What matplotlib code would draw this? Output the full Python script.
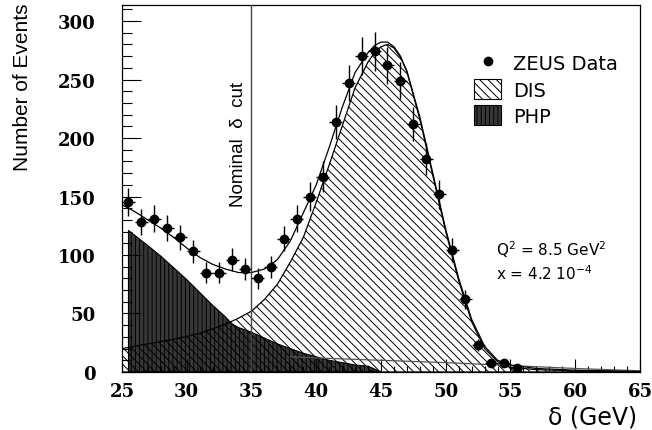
import numpy as np
import matplotlib
matplotlib.use("Agg")
import matplotlib.pyplot as plt
from matplotlib.lines import Line2D
from matplotlib.patches import Patch

# ZEUS data points (bin centres, 1 GeV bins)
delta = [25.5, 26.5, 27.5, 28.5, 29.5, 30.5, 31.5, 32.5, 33.5, 34.5,
         35.5, 36.5, 37.5, 38.5, 39.5, 40.5, 41.5, 42.5, 43.5, 44.5,
         45.5, 46.5, 47.5, 48.5, 49.5, 50.5, 51.5, 52.5, 53.5, 54.5, 55.5]
events = [145, 128, 131, 123, 115, 103, 85, 85, 96, 88,
          80, 90, 114, 131, 150, 167, 214, 247, 270, 274,
          262, 249, 212, 182, 152, 104, 62, 23, 8, 8, 3]

# total MC (DIS + PHP)
tot_x = [25, 26, 27, 28, 29, 30, 31, 32, 33, 34, 35, 36, 37, 38, 39, 40,
         41, 42, 43, 44, 44.5, 45, 45.5, 46, 46.5, 47, 48, 49, 50, 51, 52,
         53, 54, 55, 57, 60, 65]
tot_y = [143, 137, 130, 123, 115, 106, 98, 92, 88, 85, 85, 88, 96, 112,
         136, 160, 192, 226, 256, 273, 279, 282, 282, 278, 270, 257, 218,
         170, 122, 80, 45, 22, 10, 6, 3, 1.5, 0.5]

# DIS MC
dis_x = [25, 27, 29, 31, 33, 34, 35, 36, 37, 38, 39, 40, 41, 42, 43, 44,
         44.5, 45, 45.5, 46, 46.5, 47, 48, 49, 50, 51, 52, 53, 54, 55, 57,
         60, 65]
dis_y = [20, 24, 28, 33, 41, 46, 52, 62, 75, 94, 115, 145, 177, 210, 243,
         265, 273, 278, 280, 277, 269, 257, 216, 168, 120, 78, 43, 20, 9, 4,
         2, 1, 0]

# photoproduction MC
php_x = [25.5, 27, 28, 29, 30, 31, 32, 33, 33.5, 34, 35, 36, 37, 38, 39,
         40, 41, 42, 43, 44, 45]
php_y = [121, 108, 99, 89, 79, 68, 57, 47, 41, 38, 34, 29, 24, 20, 16,
         13, 10, 8, 6, 5, 0]

# low tail line
tail_x = [38, 40, 45, 50, 55, 60, 65]
tail_y = [13, 12, 10, 8, 5.5, 3, 1]

plt.rcParams['hatch.linewidth'] = 0.7

fig = plt.figure(figsize=(6.52, 4.31), dpi=100)
ax = fig.add_axes([0.1871, 0.1346, 0.7945, 0.8515])

ax.fill_between(php_x, php_y, 0, facecolor='#383838', edgecolor='black',
                hatch='||||', linewidth=0.8, zorder=1)
ax.fill_between(dis_x, dis_y, 0, facecolor='none', edgecolor='black',
                hatch='\\\\\\\\', linewidth=0.9, zorder=2)
ax.plot(tail_x, tail_y, color='#555555', lw=0.9, zorder=2)
ax.plot(tot_x, tot_y, color='black', lw=0.9, zorder=3)

err = np.sqrt(events)
ax.errorbar(delta, events, yerr=err, xerr=0.5, fmt='o', color='black',
            ms=6, elinewidth=1.0, capsize=0, zorder=4)

ax.axvline(35, color='#444444', lw=1.0, zorder=3)
ax.text(34.0, 195, 'Nominal  δ  cut', rotation=90, ha='center', va='center',
        family='Liberation Sans', fontsize=13.5)

ax.set_xlim(25, 65)
ax.set_ylim(0, 313.7)
ax.set_xticks(range(25, 66, 5))
ax.set_xticks(range(25, 66, 1), minor=True)
ax.set_yticks(range(0, 301, 50))
ax.set_yticks(range(0, 311, 10), minor=True)
ax.tick_params(axis='x', which='major', direction='in', length=9.4, width=0.8, pad=7)
ax.tick_params(axis='x', which='minor', direction='in', length=4.3, width=0.8)
ax.tick_params(axis='y', which='major', direction='in', length=13.7, width=0.8, pad=19)
ax.tick_params(axis='y', which='minor', direction='in', length=7.2, width=0.8)
for lab in ax.get_xticklabels() + ax.get_yticklabels():
    lab.set_family('DejaVu Serif')
    lab.set_fontweight('bold')
    lab.set_fontsize(13)
for sp in ax.spines.values():
    sp.set_linewidth(0.9)

handles = [Line2D([], [], marker='o', ls='none', color='black', ms=6),
           Patch(facecolor='white', edgecolor='black', hatch='\\\\\\\\', lw=0.8),
           Patch(facecolor='#383838', edgecolor='black', hatch='||||', lw=0.8)]
ax.legend(handles, ['ZEUS Data', 'DIS', 'PHP'], loc='upper left',
          bbox_to_anchor=(0.665, 0.891), frameon=False,
          prop={'family': 'DejaVu Sans', 'size': 14},
          handlelength=1.4, handleheight=1.2, labelspacing=0.3,
          handletextpad=0.6, borderaxespad=0)

ax.text(0.722, 0.336, 'Q$^2$ = 8.5 GeV$^2$', transform=ax.transAxes,
        family='DejaVu Sans', fontsize=11, va='center')
ax.text(0.722, 0.270, 'x = 4.2 10$^{-4}$', transform=ax.transAxes,
        family='DejaVu Sans', fontsize=11, va='center')

fig.text(637 / 652, 1 - 418 / 431, 'δ (GeV)', ha='right', va='center',
         family='DejaVu Sans', fontsize=17)
fig.text(23 / 652, 1 - 87 / 431, 'Number of Events', rotation=90,
         ha='center', va='center', family='Liberation Sans', fontsize=15)

fig.savefig('out.png', dpi=100)
